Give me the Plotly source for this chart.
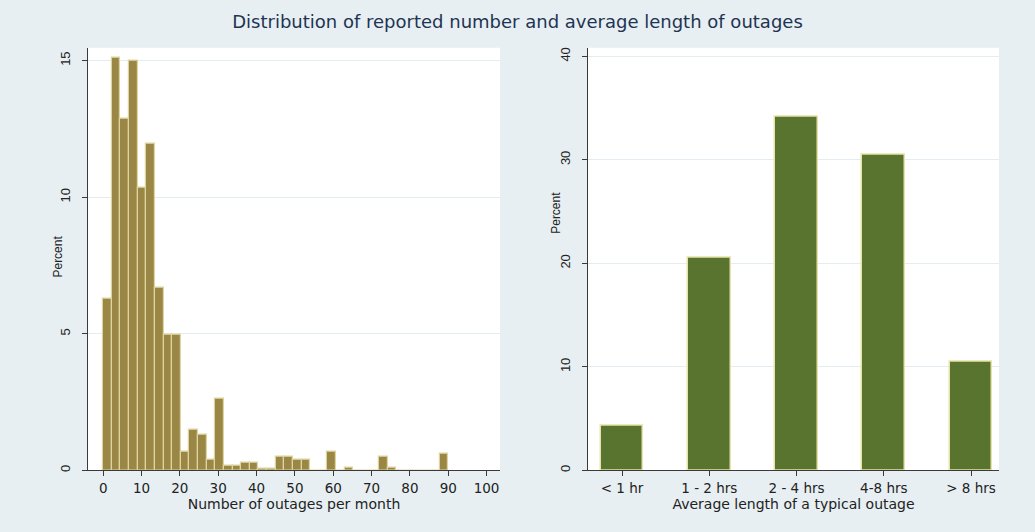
import plotly.graph_objects as go

# ---- data ----
bin_start = 0.0
bin_width = 2.25
outage_pct = [6.29, 15.1, 12.87, 15.0, 10.33, 11.94, 6.69, 4.95, 4.95, 0.68,
              1.50, 1.29, 0.38, 2.62, 0.17, 0.17, 0.28, 0.28, 0.07, 0.07,
              0.50, 0.50, 0.38, 0.38, 0.0, 0.0, 0.68, 0.0, 0.10, 0.0,
              0.0, 0.0, 0.50, 0.10, 0.0, 0.0, 0.0, 0.0, 0.0, 0.60]
length_cats = ["< 1 hr", "1 - 2 hrs", "2 - 4 hrs", "4-8 hrs", "> 8 hrs"]
length_pct = [4.3, 20.5, 34.2, 30.5, 10.5]
left_xticks = [0, 10, 20, 30, 40, 50, 60, 70, 80, 90, 100]
left_yticks = [0, 5, 10, 15]
right_yticks = [0, 10, 20, 30, 40]

centers = [bin_start + bin_width * (i + 0.5) for i in range(len(outage_pct))]

W, H = 1035, 532
def px_x(a, b):
    return [a / W, b / W]
def px_y(top, bottom):
    return [(H - bottom) / H, (H - top) / H]

BG = "#e7eff2"
GRID = "#e2ecf1"
AX = "#3a3a3a"
TXT = "#222222"
FONT = "DejaVu Sans, Liberation Sans, Arial, sans-serif"
YFONT = "Liberation Sans, Arial, sans-serif"

fig = go.Figure()
fig.add_trace(go.Bar(
    x=centers, y=outage_pct, width=bin_width,
    marker=dict(color="#9b8745", line=dict(color="#ddd4a0", width=1.2)),
    xaxis="x", yaxis="y", showlegend=False))
fig.add_trace(go.Bar(
    x=list(range(len(length_cats))), y=length_pct, width=0.49,
    marker=dict(color="#58742f", line=dict(color="#e6e2a8", width=1.5)),
    xaxis="x2", yaxis="y2", showlegend=False))

xaxis_common = dict(showline=True, linecolor=AX, linewidth=1, ticks="outside",
                    ticklen=5, tickcolor=AX, ticklabelstandoff=0,
                    tickfont=dict(size=13.5, color=TXT, family=FONT),
                    zeroline=False, showgrid=False)
yaxis_common = dict(showline=True, linecolor=AX, linewidth=1, ticks="outside",
                    ticklen=5, tickcolor=AX, ticklabelstandoff=7, tickangle=-90,
                    tickfont=dict(size=13, color=TXT, family=YFONT),
                    zeroline=False, showgrid=True, gridcolor=GRID, gridwidth=1)

fig.update_layout(
    width=W, height=H,
    margin=dict(l=0, r=0, t=0, b=0),
    paper_bgcolor=BG, plot_bgcolor="white",
    font=dict(family=FONT, color=TXT),
    bargap=0,
    title=dict(text="Distribution of reported number and average length of outages",
               x=0.5, xanchor="center", y=1 - 22 / H, yanchor="middle",
               font=dict(size=18, color="#1e3452", family=FONT)),
    xaxis=dict(domain=px_x(88, 500), range=[-3.96, 103.5], tickvals=left_xticks,
               anchor="y",
               title=dict(text="Number of outages per month", standoff=0,
                          font=dict(size=14, color=TXT, family=FONT)),
               **xaxis_common),
    yaxis=dict(domain=px_y(47, 472), range=[0, 15.47], tickvals=left_yticks,
               anchor="x", **yaxis_common),
    xaxis2=dict(domain=px_x(588, 999), range=[-0.39, 4.32],
                tickvals=list(range(len(length_cats))), ticktext=length_cats,
                anchor="y2",
                title=dict(text="Average length of a typical outage", standoff=0,
                           font=dict(size=14, color=TXT, family=FONT)),
                **xaxis_common),
    yaxis2=dict(domain=px_y(47, 472), range=[0, 40.83], tickvals=right_yticks,
                anchor="x2", **yaxis_common),
    annotations=[
        dict(text="Percent", textangle=-90, x=58 / W, y=(H - 257) / H,
             xref="paper", yref="paper", xanchor="center", yanchor="middle",
             showarrow=False, font=dict(size=12, color=TXT, family=YFONT)),
        dict(text="Percent", textangle=-90, x=556 / W, y=(H - 213) / H,
             xref="paper", yref="paper", xanchor="center", yanchor="middle",
             showarrow=False, font=dict(size=12, color=TXT, family=YFONT)),
    ],
)

fig.write_html("out.html", config={"displayModeBar": False},
               post_script="document.body.style.margin='0';")
